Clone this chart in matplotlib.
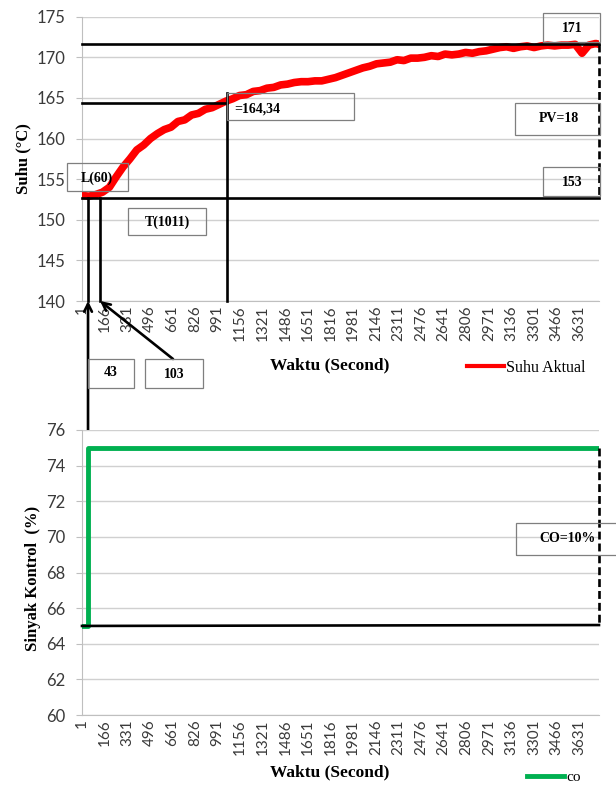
import numpy as np
import matplotlib.pyplot as plt
from matplotlib.patches import Rectangle
from matplotlib.lines import Line2D

# Data suhu (tiap 50 detik)
waktu = list(range(1, 3752, 50)) + [3775]
suhu = [153.0, 152.9, 153.1, 153.4, 154.0, 155.3, 156.5, 157.5, 158.6, 159.2,
        160.0, 160.6, 161.1, 161.4, 162.1, 162.3, 162.9, 163.1, 163.6, 163.8,
        164.2, 164.6, 164.9, 165.3, 165.4, 165.8, 165.9, 166.2, 166.3, 166.6,
        166.7, 166.9, 167.0, 167.0, 167.1, 167.1, 167.3, 167.5, 167.8, 168.1,
        168.4, 168.7, 168.9, 169.2, 169.3, 169.4, 169.7, 169.6, 169.9, 169.9,
        170.0, 170.2, 170.1, 170.4, 170.3, 170.4, 170.6, 170.5, 170.7, 170.8,
        171.0, 171.2, 171.3, 171.1, 171.3, 171.4, 171.2, 171.4, 171.5, 171.4,
        171.5, 171.5, 171.6, 170.5, 171.5, 171.7,
        171.6]

# Sinyak kontrol (step)
co_waktu = [1, 45, 3775]
co_nilai = [65, 75, 75]

# label sumbu x
waktu_label = list(range(1, 3632, 165))
suhu_ticks = list(range(140, 176, 5))
co_ticks = list(range(60, 77, 2))

# garis bantu (metode Ziegler-Nichols)
t_awal, t_L, t_tau, t_akhir = 45, 133, 1057, 3775
suhu_awal, suhu_akhir, suhu_tau = 152.7, 171.7, 164.34

W, H = 616, 787


def fx(x):
    return x / W


def fy(y):
    return 1 - y / H


plt.rcParams['font.family'] = ['Lato', 'DejaVu Sans']
serif = 'Liberation Serif'

fig = plt.figure(figsize=(6.16, 7.87), dpi=100)
ax1 = fig.add_axes([fx(82), fy(301), fx(599) - fx(82), fy(16.7) - fy(301)])
ax2 = fig.add_axes([fx(82), fy(715), fx(599) - fx(82), fy(430) - fy(715)])

for ax, ticks in [(ax1, suhu_ticks), (ax2, co_ticks)]:
    ax.set_xlim(1, 3775)
    ax.set_ylim(ticks[0], ticks[-1])
    ax.set_yticks(ticks)
    ax.set_xticks(waktu_label)
    ax.grid(axis='y', color='#d0d0d0', lw=1)
    ax.set_axisbelow(True)
    for s in ['top', 'right']:
        ax.spines[s].set_visible(False)
    for s in ['left', 'bottom']:
        ax.spines[s].set_color('#bfbfbf')
    ax.tick_params(axis='y', length=4, color='#bfbfbf', pad=8, labelsize=12, labelcolor='#3a3a3a')
    ax.tick_params(axis='x', length=0, pad=3, labelsize=11, labelrotation=90, labelcolor='#3a3a3a')

# grafik suhu
ax1.plot(waktu, suhu, color='#ff0000', lw=5.5, zorder=3)
ax1.set_xlabel('Waktu (Second)', family=serif, weight='bold', size=12.5)
ax1.xaxis.set_label_coords(0.48, -0.197)
ax1.set_ylabel('Suhu (°C)', family=serif, weight='bold', size=12)
ax1.yaxis.set_label_coords(-0.097, 0.5)
ax1.legend(handles=[Line2D([], [], color='#ff0000', lw=3)], labels=['Suhu Aktual'],
           loc='center left', bbox_to_anchor=(fx(467), fy(368)), bbox_transform=fig.transFigure,
           frameon=False, prop={'family': serif, 'size': 11.5}, handlelength=2.3,
           handletextpad=0.15, borderpad=0, borderaxespad=0)

# grafik sinyak kontrol
ax2.plot(co_waktu, co_nilai, color='#00b050', lw=3.5, drawstyle='steps-post', zorder=3)
ax2.set_xlabel('Waktu (Second)', family=serif, weight='bold', size=12.5)
ax2.xaxis.set_label_coords(0.48, -0.175)
ax2.set_ylabel('Sinyak Kontrol  (%)', family=serif, weight='bold', size=12)
ax2.yaxis.set_label_coords(-0.079, 0.48)
ax2.legend(handles=[Line2D([], [], color='#00b050', lw=3.5)], labels=['co'],
           loc='center left', bbox_to_anchor=(fx(527), fy(777)), bbox_transform=fig.transFigure,
           frameon=False, prop={'family': serif, 'size': 11}, handlelength=2.4,
           handletextpad=0.15, borderpad=0, borderaxespad=0)

# garis bantu hitam
hitam = dict(color='black', lw=1.9, zorder=4, clip_on=False)
putus = dict(color='black', lw=1.9, zorder=4, clip_on=False, ls=(0, (3, 1.5)))
ax1.plot([1, t_akhir], [suhu_akhir, suhu_akhir], **hitam)
ax1.plot([1, t_akhir], [suhu_awal, suhu_awal], **hitam)
ax1.plot([1, t_tau], [suhu_tau, suhu_tau], **hitam)
ax1.plot([t_tau, t_tau], [140, 165.6], **hitam)
ax1.plot([t_awal, t_awal], [suhu_awal, 140], **hitam)
ax1.plot([t_L, t_L], [suhu_awal, 140], **hitam)
ax1.plot([t_akhir, t_akhir], [suhu_akhir, suhu_awal], **putus)
ax2.plot([1, t_akhir], [co_nilai[0], co_nilai[0] + 0.05], **hitam)
ax2.plot([t_akhir, t_akhir], [co_nilai[-1], co_nilai[0] + 0.05], **putus)

panah = dict(arrowstyle='->', color='black', lw=1.9, mutation_scale=14, shrinkA=0, shrinkB=0)
ax1.annotate('', xy=(t_awal, 140), xycoords='data', xytext=(t_awal, 74.6),
             textcoords=ax2.transData, arrowprops=panah, annotation_clip=False)
ax1.annotate('', xy=(t_L, 140), xycoords='data', xytext=(fx(173), fy(359)),
             textcoords='figure fraction', arrowprops=panah, annotation_clip=False)


def kotak(x0, y0, x1, y1, teks, tx, ty):
    fig.add_artist(Rectangle((fx(x0), fy(y1)), fx(x1) - fx(x0), fy(y0) - fy(y1),
                             transform=fig.transFigure, fill=False, edgecolor='#7f7f7f',
                             lw=0.9, zorder=5))
    fig.text(fx(tx), fy(ty), teks, ha='center', va='center', family=serif,
             weight='bold', size=10, zorder=6)


kotak(543, 12.7, 600, 41.7, '171', 572, 29)
kotak(515, 102.7, 600, 135.3, 'PV=18', 559, 119)
kotak(543, 166.7, 600, 195.7, '153', 572, 182)
kotak(226.7, 93, 354, 120, '=164,34', 257, 109.5)
kotak(66.7, 163.3, 127.7, 191, 'L(60)', 97, 178.5)
kotak(127.7, 208.3, 206, 235, 'T(1011)', 167, 222.5)
kotak(88, 359, 134, 388, '43', 111, 373)
kotak(145, 359, 203, 388, '103', 174, 374)
kotak(516, 522.7, 640, 555, 'CO=10%', 567, 538)

fig.savefig('out.png', dpi=100)
